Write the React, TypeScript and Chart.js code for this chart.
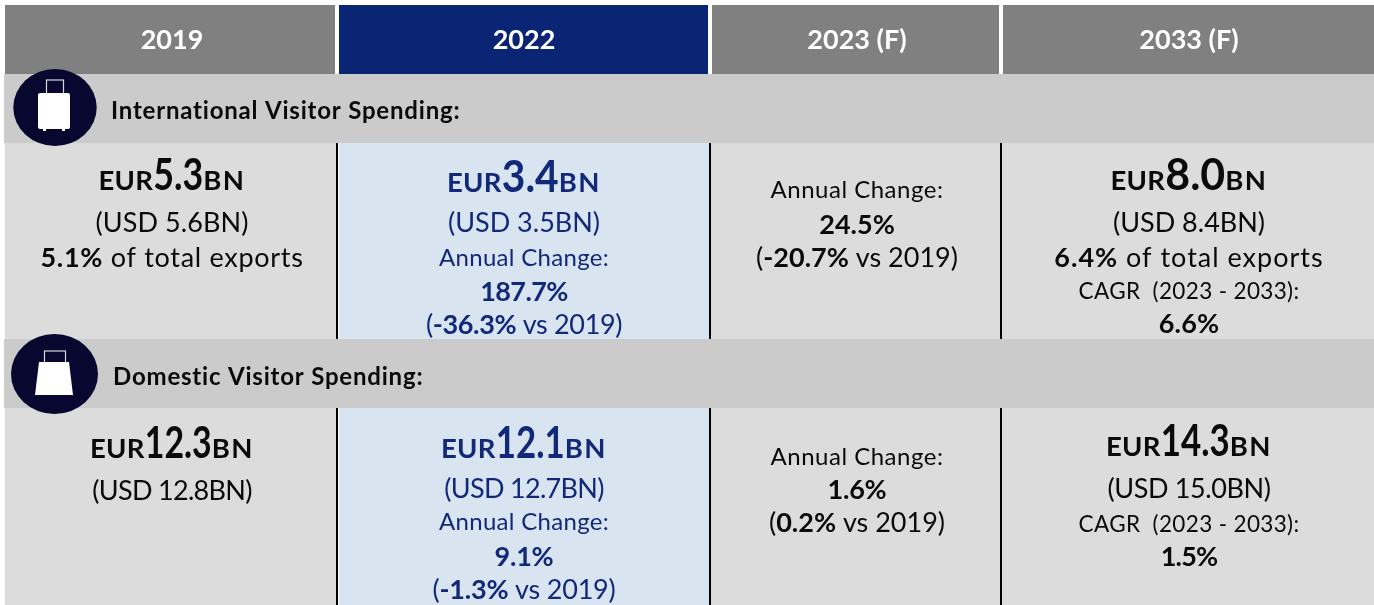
import React, { useEffect, useRef } from "react";
import { Chart, registerables } from "chart.js";

Chart.register(...registerables);

// ---- content ----
const periods = ["2019", "2022", "2023 (F)", "2033 (F)"];
const sectionTitles = ["International Visitor Spending:", "Domestic Visitor Spending:"];
const intlEur = ["5.3", "3.4", "", "8.0"];
const domEur = ["12.3", "12.1", "", "14.3"];
const intlLines = [
  ["(USD 5.6BN)", "**5.1%** of total exports"],
  ["(USD 3.5BN)", "Annual Change:", "**187.7%**", "(**-36.3%** vs 2019)"],
  ["Annual Change:", "**24.5%**", "(**-20.7%** vs 2019)"],
  ["(USD 8.4BN)", "**6.4%** of total exports", "CAGR  (2023 - 2033):", "**6.6%**"],
];
const domLines = [
  ["(USD 12.8BN)"],
  ["(USD 12.7BN)", "Annual Change:", "**9.1%**", "(**-1.3%** vs 2019)"],
  ["Annual Change:", "**1.6%**", "(**0.2%** vs 2019)"],
  ["(USD 15.0BN)", "CAGR  (2023 - 2033):", "**1.5%**"],
];

// ---- layout (separate from the content) ----
const W = 1374;
const H = 605;
const colEdges: [number, number][] = [[5, 336], [339, 709], [711, 1000], [1002, 1374]];
const headEdges: [number, number][] = [[5, 335], [339, 708], [712, 999], [1003, 1374]];
const ruleX = [337, 710, 1001];
const centers = [172, 524, 857, 1189];
const headerRow = { y0: 5, y1: 74 };
const bands = [{ y0: 74, y1: 143 }, { y0: 339, y1: 408 }];
const bodies = [{ y0: 143, y1: 339 }, { y0: 408, y1: 605 }];
const bigBase = [[190, 192, 0, 190], [458, 458, 0, 456]];
const bigWidths = [[50, 57, 0, 60], [67, 69, 0, 69]];
const lineBase = [
  [[232, 267], [232, 266, 301, 334], [198, 234, 267], [232, 267, 299, 333]],
  [[500], [498, 530, 566, 599], [465, 499, 532], [498, 532, 566]],
];
const lineTrack = [
  [[0.1, 0.7], [0, 0.3, -0.6, -0.35], [0.5, 0, 0], [0, 1, 0.35, 0.2]],
  [[-0.7], [-0.7, 0.3, -0.2, -0.2], [0.5, -0.2, 0], [-0.4, 0.35, -0.8]],
];
const titleAnchors = [{ x: 111, y: 119 }, { x: 113, y: 385 }];
const titleTrack = 0.8;

const NAVY = "#0b2575";
const TEXT_NAVY = "#12297a";
const GREY_HEAD = "#808080";
const GREY_BAND = "#cbcbcb";
const GREY_BODY = "#dcdcdc";
const BLUE_BODY = "#d8e4f0";
const DISC = "#07072f";
const FONT = "Lato";

function rect(x0: number, x1: number, y0: number, y1: number) {
  return { x: [x0, x1], y: (y0 + y1) / 2 };
}
function rowSet(points: any[], thickness: number, colors: string | string[]) {
  return {
    data: points,
    barThickness: thickness,
    backgroundColor: colors,
    borderWidth: 0,
    inflateAmount: 0,
    grouped: false,
  };
}

function sizeFor(line: string) {
  if (line.startsWith("(USD")) return 27;
  if (line.startsWith("CAGR")) return 22.5;
  if (line.startsWith("Annual")) return 24;
  return 27;
}

type Run = { t: string; font: string; track?: number; fit?: number };

function runWidth(ctx: CanvasRenderingContext2D, r: Run) {
  if (r.fit) return r.fit;
  ctx.font = r.font;
  ctx.letterSpacing = `${r.track ?? 0}px`;
  return ctx.measureText(r.t).width;
}

function drawRuns(ctx: CanvasRenderingContext2D, runs: Run[], cx: number, y: number, color: string) {
  const total = runs.reduce((sum, r) => sum + runWidth(ctx, r), 0);
  let x = cx - total / 2;
  ctx.fillStyle = color;
  ctx.textAlign = "left";
  ctx.textBaseline = "alphabetic";
  for (const r of runs) {
    ctx.font = r.font;
    ctx.letterSpacing = `${r.track ?? 0}px`;
    if (r.fit) {
      const natural = ctx.measureText(r.t).width;
      ctx.save();
      ctx.translate(x, y);
      ctx.scale(r.fit / natural, 1);
      ctx.fillText(r.t, 0, 0);
      ctx.restore();
      x += r.fit;
    } else {
      ctx.fillText(r.t, x, y);
      x += runWidth(ctx, r);
    }
  }
  ctx.letterSpacing = "0px";
}

function parseLine(line: string, track: number): Run[] {
  const size = sizeFor(line);
  return line
    .split("**")
    .map((t, i) => ({ t, font: `${i % 2 ? 700 : 400} ${size}px ${FONT}`, track }))
    .filter((r) => r.t.length);
}

const tablePlugin = {
  id: "tableText",
  afterDatasetsDraw(chart: any) {
    const { ctx, scales } = chart;
    const px = (v: number) => scales.x.getPixelForValue(v);
    const py = (v: number) => scales.y.getPixelForValue(v);
    ctx.save();

    periods.forEach((p, i) => {
      ctx.font = `700 27px ${FONT}`;
      ctx.textAlign = "center";
      ctx.textBaseline = "alphabetic";
      ctx.fillStyle = "#ffffff";
      ctx.fillText(p, px(centers[i]), py(49));
    });

    sectionTitles.forEach((title, i) => {
      ctx.font = `700 24px ${FONT}`;
      ctx.letterSpacing = `${titleTrack}px`;
      ctx.textAlign = "left";
      ctx.textBaseline = "alphabetic";
      ctx.fillStyle = "#0a0a0a";
      ctx.fillText(title, px(titleAnchors[i].x), py(titleAnchors[i].y));
      ctx.letterSpacing = "0px";
    });

    [intlEur, domEur].forEach((vals, s) => {
      vals.forEach((v, c) => {
        if (!v) return;
        const color = c === 1 ? TEXT_NAVY : "#0a0a0a";
        drawRuns(ctx, [
          { t: "EUR", font: `700 27.5px ${FONT}`, track: 0.3 },
          { t: v, font: `700 44px ${FONT}`, fit: bigWidths[s][c] },
          { t: "BN", font: `700 27.5px ${FONT}`, track: 1.5 },
        ], px(centers[c]), py(bigBase[s][c]), color);
      });
    });

    [intlLines, domLines].forEach((cols, s) => {
      cols.forEach((lines, c) => {
        lines.forEach((line, l) => {
          drawRuns(ctx, parseLine(line, lineTrack[s][c][l]), px(centers[c]), py(lineBase[s][c][l]), c === 1 ? TEXT_NAVY : "#0a0a0a");
        });
      });
    });

    // suitcase icon
    ctx.fillStyle = DISC;
    ctx.beginPath();
    ctx.ellipse(px(55), py(107.5), 41.7, 38.5, 0, 0, Math.PI * 2);
    ctx.fill();
    ctx.strokeStyle = "#d8d8e0";
    ctx.lineWidth = 1.2;
    ctx.strokeRect(px(46.5), py(80), 17, 14);
    ctx.fillStyle = "#ffffff";
    ctx.beginPath();
    ctx.roundRect(px(38), py(93), 32, 36, 2);
    ctx.fill();
    ctx.fillRect(px(43), py(129), 3, 2);
    ctx.fillRect(px(62), py(129), 3, 2);

    // bag icon
    ctx.fillStyle = DISC;
    ctx.beginPath();
    ctx.ellipse(px(54.5), py(374), 43.5, 40, 0, 0, Math.PI * 2);
    ctx.fill();
    ctx.strokeStyle = "#d8d8e0";
    ctx.lineWidth = 1.2;
    ctx.strokeRect(px(44.5), py(351), 21, 12);
    ctx.fillStyle = "#ffffff";
    ctx.beginPath();
    ctx.moveTo(px(39), py(362));
    ctx.lineTo(px(69), py(362));
    ctx.lineTo(px(73), py(395));
    ctx.lineTo(px(35), py(395));
    ctx.closePath();
    ctx.fill();

    ctx.restore();
  },
};

export default function App() {
  const ref = useRef<HTMLCanvasElement>(null);
  useEffect(() => {
    document.body.style.margin = "0";
    const colColors = [GREY_BODY, BLUE_BODY, GREY_BODY, GREY_BODY];
    const rows = [
      rowSet(headEdges.map(([a, b]) => rect(a, b, headerRow.y0, headerRow.y1)), headerRow.y1 - headerRow.y0,
        [GREY_HEAD, NAVY, GREY_HEAD, GREY_HEAD]),
      ...bands.map((b) => rowSet([rect(4, W, b.y0, b.y1)], b.y1 - b.y0, GREY_BAND)),
      ...bodies.flatMap((b) => [
        rowSet(ruleX.map((x) => rect(x - 1, x + 1, b.y0, b.y1)), b.y1 - b.y0, "#000000"),
        rowSet(colEdges.map(([a, e]) => rect(a, e, b.y0, b.y1)), b.y1 - b.y0, colColors),
      ]),
    ];
    const chart = new Chart(ref.current as HTMLCanvasElement, {
      type: "bar",
      data: { datasets: rows as any },
      options: {
        indexAxis: "y",
        responsive: false,
        animation: false,
        layout: { padding: 0 },
        plugins: { legend: { display: false }, title: { display: false }, tooltip: { enabled: false } },
        scales: {
          x: { type: "linear", min: 0, max: W, display: false },
          y: { type: "linear", min: 0, max: H, reverse: true, display: false, offset: false },
        },
      },
      plugins: [tablePlugin],
    } as any);
    return () => chart.destroy();
  }, []);
  return (
    <canvas
      ref={ref}
      width={W}
      height={H}
      style={{ display: "block", position: "fixed", left: 0, top: 0, width: W, height: H }}
    />
  );
}
